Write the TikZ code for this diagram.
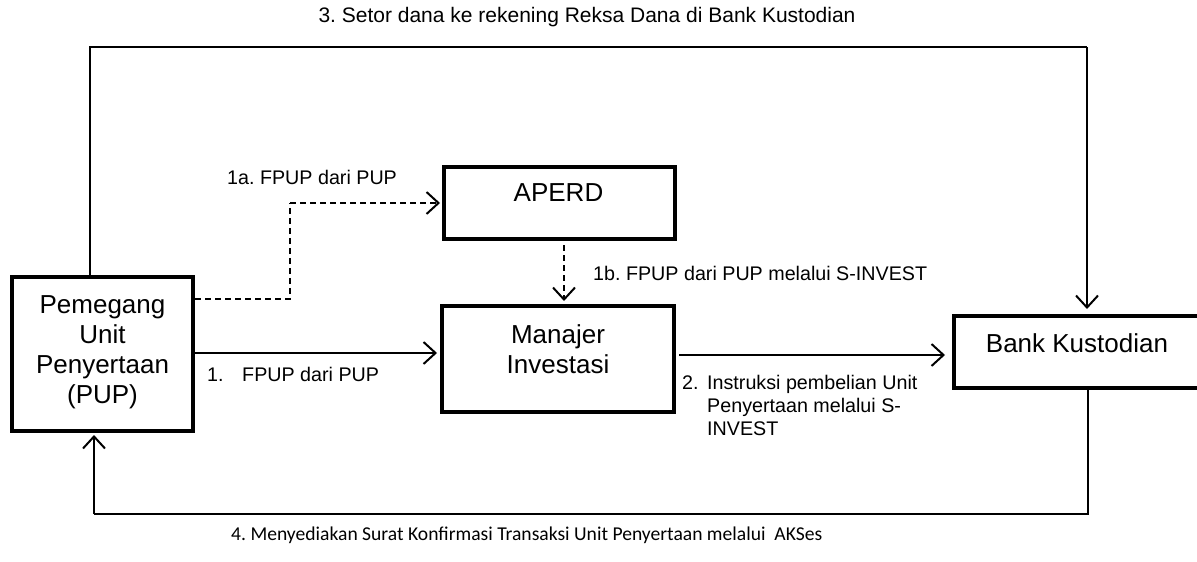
\documentclass[tikz,border=0pt]{standalone}
\usepackage{fontspec}
\setmainfont{Liberation Sans}
\newfontfamily\calib{Carlito}
\usetikzlibrary{arrows.meta}
\frenchspacing
\tikzset{
  box/.style={draw, line width=4pt, inner sep=0pt},
  boxtext/.style={inner sep=0pt, align=center, font=\fontsize{26}{30}\selectfont},
  lbl/.style={inner sep=0pt, font=\fontsize{19.7}{23}\selectfont},
  conn/.style={line width=2pt, -{Straight Barb[length=12pt,width=22pt,line width=2pt]}},
  plain/.style={line width=2pt},
  dconn/.style={conn, dash pattern=on 6pt off 4pt},
}
\begin{document}
\begin{tikzpicture}[x=1pt,y=-1pt]
\useasboundingbox (0,0) rectangle (1197,562);
% boxes
\node[box, minimum width=181pt, minimum height=154pt] (pup) at (102.5,354) {};
\node[box, minimum width=231pt, minimum height=72pt] (aperd) at (559.5,203) {};
\node[box, minimum width=232pt, minimum height=106pt] (mi) at (558,359) {};
\node[box, minimum width=246pt, minimum height=72pt] (bank) at (1077,352) {};
% box texts
\node[boxtext] (pupT) at (102.5,352.5) {Pemegang\\Unit\\Penyertaan\\(PUP)};
\node[boxtext] (aperdT) at (558.5,193) {APERD};
\node[boxtext] (miT) at (558,349) {Manajer\\Investasi};
\node[boxtext] (bankT) at (1077,343) {Bank Kustodian};
% coordinates
\coordinate (t1) at (90,47);
\coordinate (t2) at (1087,47);
\coordinate (b1) at (94,514);
\coordinate (b2) at (1088,514);
\coordinate (d1) at (290,299);
\coordinate (d2) at (290,203);
% connectors
\draw[plain] (pup.north -| t1) -- (t1) -- (t2);
\draw[conn, shorten >=5pt] (t2) -- (bank.north -| t2);
\draw[plain] (bank.south -| b2) -- (b2) -- (b1);
\draw[conn, shorten >=2pt] (b1) -- (pup.south -| b1);
\draw[dash pattern=on 6pt off 4pt, line width=2pt] (pup.east |- d1) -- (d1) -- (d2);
\draw[dconn, shorten >=2pt] (d2) -- (aperd.west |- d2);
\draw[conn, shorten >=3pt] (pup.east |- 0,353) -- (mi.west |- 0,353);
\draw[dconn, shorten <=4pt, shorten >=3pt] (aperd.south -| 564,0) -- (mi.north -| 564,0);
\draw[conn, shorten <=3pt, shorten >=7pt] (mi.east |- 0,355) -- (bank.west |- 0,355);
% labels
\node[inner sep=0pt, font=\fontsize{21}{25}\selectfont, anchor=base] (l3) at (587,22) {3. Setor dana ke rekening Reksa Dana di Bank Kustodian};
\node[lbl, anchor=base west] (l1a) at (227,184) {1a. FPUP dari PUP};
\node[lbl, anchor=base west] (l1b) at (593,280) {1b. FPUP dari PUP melalui S-INVEST};
\node[lbl, anchor=base west] (l1) at (207,381) {1.\hspace{18.6pt}FPUP dari PUP};
\node[lbl, anchor=base west] (l2n) at (682,389) {2.};
\node[lbl, anchor=north west, align=left] (l2) at (707,374.6) {Instruksi pembelian Unit\\Penyertaan melalui S-\\INVEST};
\node[inner sep=0pt, font=\calib\fontsize{19.6}{23}\selectfont, anchor=base west] (l4) at (231,540) {4. Menyediakan Surat Konfirmasi Transaksi Unit Penyertaan melalui\ \ AKSes};
\end{tikzpicture}
\end{document}
